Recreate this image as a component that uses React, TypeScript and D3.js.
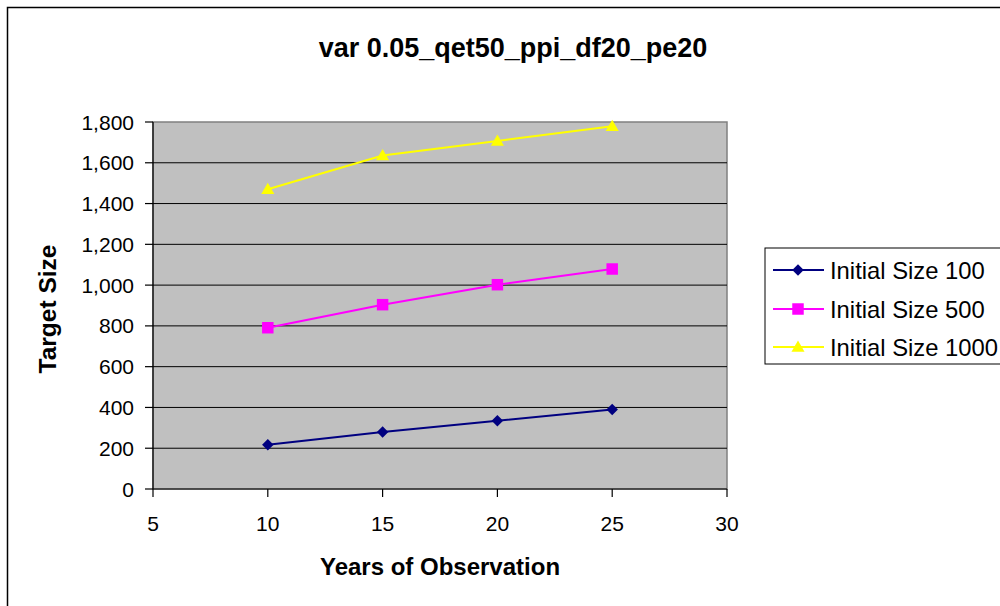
import React from "react";
import * as d3 from "d3";

// Years of observation on the x axis
const years = [10, 15, 20, 25];

// Target size for each initial size series
const size100 = [217, 279, 335, 390];
const size500 = [791, 904, 1002, 1079];
const size1000 = [1470, 1636, 1707, 1779];

const seriesNames = ["Initial Size 100", "Initial Size 500", "Initial Size 1000"];

const xTicks = [5, 10, 15, 20, 25, 30];
const yTicks = [0, 200, 400, 600, 800, 1000, 1200, 1400, 1600, 1800];

const W = 1000;
const H = 606;
const plot = { left: 153, top: 122, right: 727, bottom: 489 };
const FONT = "'Liberation Sans', Arial, sans-serif";

type Series = { name: string; values: number[]; color: string; marker: "diamond" | "square" | "triangle" };

const series: Series[] = [
  { name: seriesNames[0], values: size100, color: "#000080", marker: "diamond" },
  { name: seriesNames[1], values: size500, color: "#FF00FF", marker: "square" },
  { name: seriesNames[2], values: size1000, color: "#FFFF00", marker: "triangle" },
];

function markerPath(kind: Series["marker"]): string {
  if (kind === "diamond") return d3.symbol(d3.symbolSquare, 66)() as string;
  if (kind === "square") return d3.symbol(d3.symbolSquare, 132)() as string;
  return d3.symbol(d3.symbolTriangle, 74)() as string;
}

function Marker({ s, x, y }: { s: Series; x: number; y: number }) {
  const rot = s.marker === "diamond" ? " rotate(45)" : "";
  const dy = s.marker === "triangle" ? 1 : 0;
  return (
    <path
      d={markerPath(s.marker)}
      transform={`translate(${x},${y + dy})${rot}`}
      fill={s.color}
      stroke="none"
    />
  );
}

export default function App() {
  const x = d3.scaleLinear().domain([5, 30]).range([plot.left, plot.right]);
  const y = d3.scaleLinear().domain([0, 1800]).range([plot.bottom, plot.top]);
  const fmt = d3.format(",");
  const line = d3
    .line<[number, number]>()
    .x((d) => x(d[0]))
    .y((d) => y(d[1]));

  const legend = { x: 765, y: 248, w: 240, h: 116 };
  const rowY = [270, 309, 347];

  return (
    <svg
      width={W}
      height={H}
      style={{ position: "absolute", left: 0, top: 0, background: "#fff" }}
      fontFamily={FONT}
    >
      {/* chart frame */}
      <rect x={7.5} y={7.5} width={1010} height={620} fill="#fff" stroke="#000" strokeWidth={1.5} />

      {/* title */}
      <text x={513} y={57} textAnchor="middle" fontSize={27} fontWeight="bold" fill="#000">
        var 0.05_qet50_ppi_df20_pe20
      </text>

      {/* plot area */}
      <rect
        x={plot.left}
        y={plot.top}
        width={plot.right - plot.left}
        height={plot.bottom - plot.top}
        fill="#C0C0C0"
        stroke="#808080"
        strokeWidth={1.5}
      />

      {/* horizontal gridlines */}
      {yTicks.slice(1, -1).map((t) => (
        <line key={t} x1={plot.left} x2={plot.right} y1={y(t)} y2={y(t)} stroke="#000" strokeWidth={1} />
      ))}

      {/* axes */}
      <line x1={plot.left} x2={plot.left} y1={plot.top} y2={plot.bottom} stroke="#000" strokeWidth={1.2} />
      <line x1={plot.left} x2={plot.right} y1={plot.bottom} y2={plot.bottom} stroke="#000" strokeWidth={1.2} />

      {yTicks.map((t) => (
        <g key={t}>
          <line x1={plot.left - 8} x2={plot.left} y1={y(t)} y2={y(t)} stroke="#000" strokeWidth={1.2} />
          <text x={134} y={y(t)} dy="0.36em" textAnchor="end" fontSize={21} fill="#000">
            {fmt(t)}
          </text>
        </g>
      ))}

      {xTicks.map((t) => (
        <g key={t}>
          <line x1={x(t)} x2={x(t)} y1={plot.bottom} y2={plot.bottom + 8} stroke="#000" strokeWidth={1.2} />
          <text x={x(t)} y={531} textAnchor="middle" fontSize={21} fill="#000">
            {t}
          </text>
        </g>
      ))}

      {/* axis titles */}
      <text x={440} y={575} textAnchor="middle" fontSize={24} fontWeight="bold" fill="#000">
        Years of Observation
      </text>
      <text
        transform={`translate(56,309) rotate(-90)`}
        textAnchor="middle"
        fontSize={24.5}
        fontWeight="bold"
        fill="#000"
      >
        Target Size
      </text>

      {/* series */}
      {series.map((s) => {
        const pts = years.map((yr, i) => [yr, s.values[i]] as [number, number]);
        return (
          <g key={s.name}>
            <path d={line(pts) as string} fill="none" stroke={s.color} strokeWidth={2} />
            {pts.map((p, i) => (
              <Marker key={i} s={s} x={x(p[0])} y={y(p[1])} />
            ))}
          </g>
        );
      })}

      {/* legend */}
      <rect x={legend.x} y={legend.y} width={legend.w} height={legend.h} fill="#fff" stroke="#000" strokeWidth={1} />
      {series.map((s, i) => (
        <g key={s.name}>
          <line x1={773} x2={824} y1={rowY[i]} y2={rowY[i]} stroke={s.color} strokeWidth={2} />
          <Marker s={s} x={798} y={rowY[i]} />
          <text x={830} y={rowY[i]} dy="0.36em" fontSize={23.8} fill="#000">
            {s.name}
          </text>
        </g>
      ))}
    </svg>
  );
}
